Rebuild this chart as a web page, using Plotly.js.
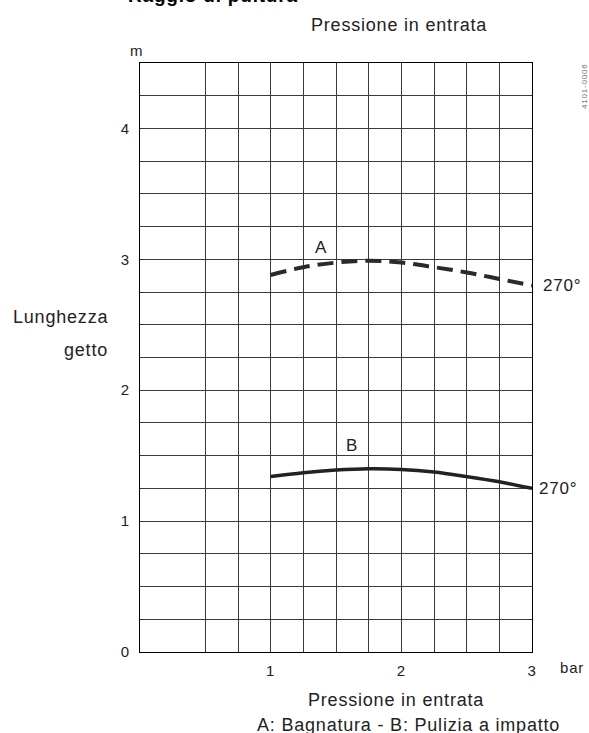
<!DOCTYPE html>
<html>
<head>
<meta charset="utf-8">
<script src="https://cdn.plot.ly/plotly-3.0.1.min.js"></script>
<style>
html, body { margin: 0; padding: 0; background: #fff; }
#chart { width: 589px; height: 733px; }
text { letter-spacing: 0.8px; }
</style>
</head>
<body>
<div id="chart"></div>
<script>
// Data
const pressure = [1, 1.25, 1.5, 1.75, 2, 2.25, 2.5, 2.75, 3];
const lengthA = [2.88, 2.94, 2.975, 2.99, 2.975, 2.94, 2.9, 2.85, 2.80];
const lengthB = [1.34, 1.37, 1.39, 1.40, 1.395, 1.375, 1.34, 1.30, 1.25];
const xGridVals = [0.5, 0.75, 1, 1.25, 1.5, 1.75, 2, 2.25, 2.5, 2.75, 3];
const xTickText = ['', '', '1', '', '', '', '2', '', '', '', '3'];
const yGridVals = [0, 0.25, 0.5, 0.75, 1, 1.25, 1.5, 1.75, 2, 2.25, 2.5, 2.75, 3, 3.25, 3.5, 3.75, 4, 4.25, 4.5];
const yTickText = ['0', '', '', '', '1', '', '', '', '2', '', '', '', '3', '', '', '', '4', '', ''];

const FONT = 'Liberation Sans, Arial, sans-serif';
const TXT = '#222';

const traces = [
  { x: pressure, y: lengthA, mode: 'lines', type: 'scatter',
    line: { color: '#2a2a2a', width: 4, dash: '16px,8px', shape: 'spline' }, hoverinfo: 'skip' },
  { x: pressure, y: lengthB, mode: 'lines', type: 'scatter',
    line: { color: '#222', width: 3.5, shape: 'spline' }, hoverinfo: 'skip' }
];

function ann(text, x, y, opts) {
  return Object.assign({ text: text, x: x, y: y, xref: 'paper', yref: 'paper',
    showarrow: false, xanchor: 'center', yanchor: 'middle',
    font: { family: FONT, size: 18, color: TXT } }, opts || {});
}

const layout = {
  width: 589, height: 733,
  margin: { l: 140, r: 57, t: 63, b: 81 },
  paper_bgcolor: '#fff', plot_bgcolor: '#fff',
  showlegend: false,
  font: { family: FONT, size: 15, color: TXT },
  xaxis: {
    range: [0, 3], tickvals: xGridVals, ticktext: xTickText,
    showgrid: true, gridcolor: '#3a3a3a', gridwidth: 1,
    showline: true, linecolor: '#000', linewidth: 1.2, mirror: true,
    zeroline: false, ticks: '', ticklabelstandoff: 5,
    tickfont: { family: FONT, size: 15, color: TXT }, fixedrange: true
  },
  yaxis: {
    range: [0, 4.5], tickvals: yGridVals, ticktext: yTickText,
    showgrid: true, gridcolor: '#3a3a3a', gridwidth: 1,
    showline: true, linecolor: '#000', linewidth: 1.2, mirror: true,
    zeroline: false, ticks: '', ticklabelstandoff: 6,
    tickfont: { family: FONT, size: 15, color: TXT }, fixedrange: true
  },
  annotations: [
    ann('<b>Raggio di pultura</b>', 0.186, 1.0934, { yanchor: 'bottom', font: { family: FONT, size: 19, color: '#000' } }),
    ann('Pressione in entrata', 0.661, 1.0645),
    ann('m', -0.0077, 1.022, { font: { family: FONT, size: 15, color: TXT } }),
    ann('Pressione in entrata', 0.654, -0.0815),
    ann('A: Bagnatura - B: Pulizia a impatto', 0.684, -0.124),
    ann('Lunghezza', -0.0765, 0.569, { xanchor: 'right' }),
    ann('getto', -0.0765, 0.513, { xanchor: 'right' }),
    ann('bar', 1.102, -0.027, { font: { family: FONT, size: 15, color: TXT } }),
    ann('4101-0006', 1.135, 0.961, { textangle: -90, font: { family: FONT, size: 8, color: '#777' } }),
    ann('270°', 1.023, 0.623, { xanchor: 'left', font: { family: FONT, size: 17, color: TXT } }),
    ann('270°', 1.013, 0.277, { xanchor: 'left', font: { family: FONT, size: 17, color: TXT } }),
    { text: 'A', x: 1.385, y: 3.094, xref: 'x', yref: 'y', showarrow: false, font: { family: FONT, size: 17, color: TXT } },
    { text: 'B', x: 1.622, y: 1.581, xref: 'x', yref: 'y', showarrow: false, font: { family: FONT, size: 17, color: TXT } }
  ]
};

Plotly.newPlot('chart', traces, layout, { staticPlot: true, displayModeBar: false });
</script>
</body>
</html>
